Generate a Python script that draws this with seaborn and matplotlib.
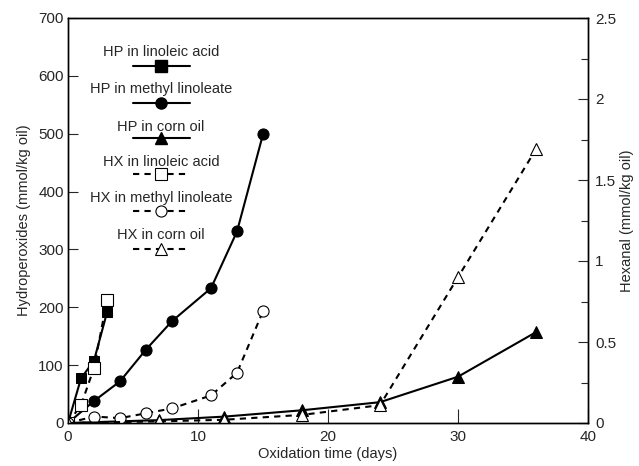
import matplotlib
matplotlib.use("Agg")
import matplotlib.pyplot as plt
import seaborn as sns
from matplotlib.lines import Line2D

# ---- data ----
days_hp_la = [0, 1, 2, 3]
hp_la = [0, 77, 108, 191]
days_hp_ml = [0, 2, 4, 6, 8, 11, 13, 15]
hp_ml = [0, 38, 72, 127, 176, 233, 331, 499]
days_hp_co = [0, 7, 12, 18, 24, 30, 36]
hp_co = [0, 5, 11, 22, 36, 80, 157]

days_hx_la = [0, 1, 2, 3]
hx_la = [0, 0.11, 0.34, 0.76]
days_hx_ml = [0, 2, 4, 6, 8, 11, 13, 15]
hx_ml = [0, 0.04, 0.03, 0.06, 0.09, 0.17, 0.31, 0.69]
days_hx_co = [0, 7, 12, 18, 24, 30, 36]
hx_co = [0, 0.01, 0.02, 0.05, 0.11, 0.90, 1.69]

labels = ["HP in linoleic acid", "HP in methyl linoleate", "HP in corn oil",
          "HX in linoleic acid", "HX in methyl linoleate", "HX in corn oil"]

sns.set_style("ticks")
plt.rcParams['font.family'] = ['Liberation Sans', 'DejaVu Sans']

fig = plt.figure(figsize=(6.39, 4.66), dpi=100)
L, R, T, B = 68, 588, 18, 423
ax = fig.add_axes([L/639, 1-B/466, (R-L)/639, (B-T)/466])
ax2 = ax.twinx()

solid = dict(color="black", linewidth=1.5, linestyle="-", markersize=8,
             markeredgecolor="black", markerfacecolor="black")
dashed = dict(color="black", linewidth=1.5, linestyle=(0, (3, 2.5)), markersize=8,
              markeredgecolor="black", markerfacecolor="white", markeredgewidth=0.8)

sns.lineplot(x=days_hp_la, y=hp_la, ax=ax, marker="s", **{**solid, "markersize": 7})
sns.lineplot(x=days_hp_ml, y=hp_ml, ax=ax, marker="o", **solid)
sns.lineplot(x=days_hp_co, y=hp_co, ax=ax, marker="^", **{**solid, "markersize": 9})

sns.lineplot(x=days_hx_la, y=hx_la, ax=ax2, marker="s", **dashed)
sns.lineplot(x=days_hx_ml, y=hx_ml, ax=ax2, marker="o", **dashed)
sns.lineplot(x=days_hx_co, y=hx_co, ax=ax2, marker="^", **{**dashed, "markersize": 9})

ax.set_xlim(0, 40)
ax.set_ylim(0, 700)
ax2.set_ylim(0, 2.5)
ax.set_xticks([0, 10, 20, 30, 40])
ax.set_yticks(range(0, 701, 100))
ax2.set_yticks([0, 0.5, 1, 1.5, 2, 2.5])
ax2.set_yticklabels(["0", "0.5", "1", "1.5", "2", "2.5"])
ax2.set_yticks([0.25, 0.75, 1.25, 1.75, 2.25], minor=True)

ax.tick_params(axis="x", direction="in", length=10, width=0.8, labelsize=11, pad=5)
ax.tick_params(axis="y", direction="in", length=7, width=0.8, labelsize=11, pad=3)
ax2.tick_params(axis="y", which="major", direction="in", length=7, width=0.8, labelsize=11, pad=5)
ax2.tick_params(axis="y", which="minor", direction="in", length=5, width=0.8)

for a in (ax, ax2):
    for s in a.spines.values():
        s.set_visible(True)
        s.set_linewidth(1.0)
        s.set_color("black")

ax.set_xlabel("Oxidation time (days)", fontsize=10.5, labelpad=2)
ax.set_ylabel("Hydroperoxides (mmol/kg oil)", fontsize=10.5, labelpad=5)
ax2.set_ylabel("Hexanal (mmol/kg oil)", fontsize=10.5, labelpad=3)

# ---- custom legend: label text above a line sample ----
markers = ["s", "o", "^", "s", "o", "^"]
text_y = [52, 89, 127, 162, 198, 235]
line_y = [66, 103, 138, 174, 211, 249]
x0, x1, xc = 133, 190, 161
def fx(px):
    return (px - L) / (R - L)
def fy(py):
    return (B - py) / (B - T)
for i, lab in enumerate(labels):
    st = solid if i < 3 else dashed
    ax.text(fx(xc), fy(text_y[i]), lab, transform=ax.transAxes, ha="center",
            va="center", fontsize=10.5)
    ax.add_line(Line2D([fx(x0), fx(x1)], [fy(line_y[i])] * 2, transform=ax.transAxes,
                       color="black", linewidth=1.5, linestyle=st["linestyle"]))
    ax.add_line(Line2D([fx(xc)], [fy(line_y[i])], transform=ax.transAxes,
                       marker=markers[i], markersize=8 if i != 2 else 9,
                       markerfacecolor=st["markerfacecolor"], markeredgecolor="black",
                       markeredgewidth=st.get("markeredgewidth", 1.0), linestyle="none"))

fig.savefig("out.png", dpi=100)
